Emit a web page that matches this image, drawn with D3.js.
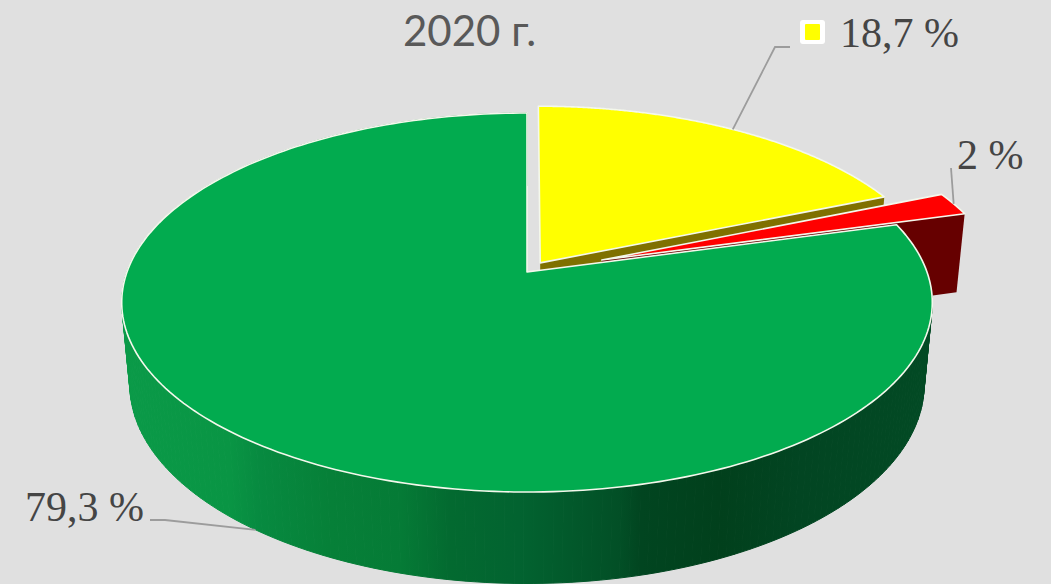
<!DOCTYPE html>
<html>
<head>
<meta charset="utf-8">
<script src="https://cdn.jsdelivr.net/npm/d3@7"></script>
<style>
    html, body { margin: 0; padding: 0; background: #e0e0e0; overflow: hidden; }
    svg { display: block; }
    .val { font-family: "Liberation Serif", serif; font-size: 42px; fill: #454545; }
    .ttl { font-family: Lato, sans-serif; font-size: 42px; fill: #595959; }
</style>
</head>
<body>
<script>
// Chart data
const categories = ['yellow', 'red', 'green'];
const shares = [18.7, 2, 79.3];
const labels = ['18,7 %', '2 %', '79,3 %'];
const title = '2020 г.';
const topColors = ['#ffff00', '#ff0000', '#02ab4f'];
const sideColors = ['#7f7000', '#660000', '#02ab4f'];
const explode = [0.06, 0.2, 0];

// colours of the green rim, left to right
const rimStops = [0, 0.133, 0.17, 0.256, 0.343, 0.404, 0.49, 0.614, 0.64, 0.737, 0.836, 1];
const rimColors = ['#0a9a48', '#099544', '#078a40', '#068038', '#057b36', '#036a30', '#026330', '#024f26', '#014520', '#01401c', '#024522', '#024a24'];

const width = 1051, height = 584;

// perspective of the disc: far half is squeezed, lower face slightly smaller
const cx = 527, cy = 272;
const rx = d3.scaleLinear().domain([0, 1]).range([0, 400]);
const ry = d3.scaleLinear().domain([0, 1]).range([0, 184.6]);
const tilt = 0.161, sink = 0.02, depth = 83;

function project(u, v, h) {
    const w = 1 - tilt * v + sink * h;
    return [cx + rx(u) / w, cy + (ry(v) + depth * h) / w];
}

function rimPoint(a, e, mid, h) {
    const u = Math.sin(a) + e * Math.sin(mid);
    const v = -Math.cos(a) + e * -Math.cos(mid);
    return project(u, v, h);
}

const arcs = d3.pie().sort(null)(shares);
const line = d3.line();

const svg = d3.select('body').append('svg').attr('width', width).attr('height', height);
svg.append('rect').attr('width', width).attr('height', height).attr('fill', '#e0e0e0');

const grad = svg.append('defs').append('linearGradient')
    .attr('id', 'rim').attr('gradientUnits', 'userSpaceOnUse')
    .attr('x1', 122).attr('x2', 933).attr('y1', 0).attr('y2', 0);
rimStops.forEach((s, i) => grad.append('stop').attr('offset', s).attr('stop-color', rimColors[i]));

function arcPoints(d, e, h) {
    const mid = (d.startAngle + d.endAngle) / 2;
    return d3.range(0, 241).map(i => {
        const a = d.startAngle + (d.endAngle - d.startAngle) * i / 240;
        return rimPoint(a, e, mid, h);
    });
}

function apex(d, e, h) {
    const mid = (d.startAngle + d.endAngle) / 2;
    return project(e * Math.sin(mid), e * -Math.cos(mid), h);
}

function drawTop(i) {
    const pts = [apex(arcs[i], explode[i], 0)].concat(arcPoints(arcs[i], explode[i], 0));
    svg.append('path')
        .attr('d', line(pts) + 'Z')
        .attr('fill', topColors[i])
        .attr('stroke', '#f4f8ec')
        .attr('stroke-width', 1.6)
        .attr('stroke-linejoin', 'round');
}

function drawEndFace(i) {
    const d = arcs[i], e = explode[i];
    const mid = (d.startAngle + d.endAngle) / 2;
    const pts = [
        apex(d, e, 0),
        rimPoint(d.endAngle, e, mid, 0),
        rimPoint(d.endAngle, e, mid, 1),
        apex(d, e, 1)
    ];
    svg.append('path').attr('d', line(pts) + 'Z').attr('fill', sideColors[i]);
}

// back to front
drawEndFace(0);
drawEndFace(1);
drawTop(1);
drawTop(0);

// green rim as small quads, one path would cancel itself at the silhouette
const rimTop = arcPoints(arcs[2], 0, 0);
const rimBottom = arcPoints(arcs[2], 0, 1);
const rim = svg.append('g').attr('fill', 'url(#rim)').attr('stroke', 'url(#rim)').attr('stroke-width', 1);
d3.range(0, 240).forEach(i => {
    rim.append('path').attr('d', line([rimTop[i], rimTop[i + 1], rimBottom[i + 1], rimBottom[i]]) + 'Z');
});
drawTop(2);

// leader lines start from the middle of each slice
function midPoint(i, h) {
    const d = arcs[i];
    const mid = (d.startAngle + d.endAngle) / 2;
    return rimPoint(mid, explode[i], mid, h);
}
const leaders = [
    [midPoint(0, 0), [775, 47], [790, 47]],
    [midPoint(1, 0), [951, 168]],
    [midPoint(2, 1), [165, 520], [150, 520]]
];
leaders.forEach(p => {
    svg.append('path').attr('d', line(p)).attr('fill', 'none')
        .attr('stroke', '#9c9c9c').attr('stroke-width', 1.8);
});

// legend key next to the yellow label
svg.append('rect').attr('x', 800).attr('y', 20).attr('width', 25).attr('height', 24)
    .attr('rx', 3).attr('fill', '#ffffff');
svg.append('rect').attr('x', 805).attr('y', 24).attr('width', 15).attr('height', 16)
    .attr('rx', 1).attr('fill', topColors[0]);

const labelPos = [[840, 47], [957, 169], [25, 521]];
labels.forEach((t, i) => {
    svg.append('text').attr('class', 'val').attr('x', labelPos[i][0]).attr('y', labelPos[i][1]).text(t);
});
svg.append('text').attr('class', 'ttl').attr('x', 403).attr('y', 46).text(title);
</script>
</body>
</html>
